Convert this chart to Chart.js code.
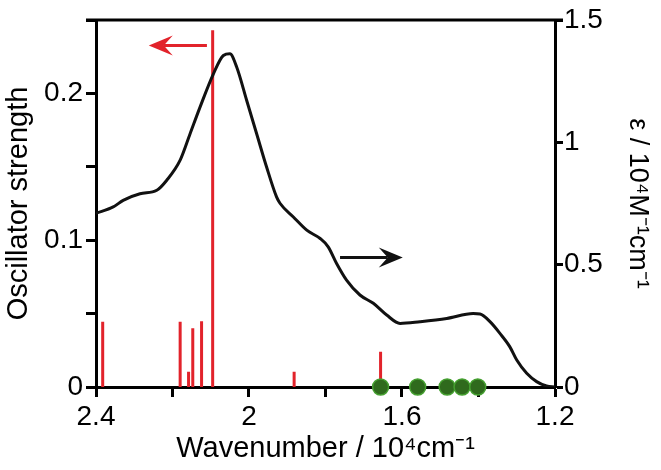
<!DOCTYPE html>
<html>
<head>
<meta charset="utf-8">
<script src="https://cdn.jsdelivr.net/npm/chart.js@4.4.1/dist/chart.umd.min.js"></script>
<style>
  html, body { margin: 0; padding: 0; background: #fff; }
  #wrap { width: 661px; height: 470px; }
</style>
</head>
<body>
<div id="wrap"><canvas id="c" width="661" height="470"></canvas></div>
<script>
// ---- data (wavenumber in 10^4 cm^-1) ----
const wavenumber = [2.400, 2.355, 2.329, 2.285, 2.241, 2.215, 2.180, 2.154, 2.128, 2.093, 2.067, 2.050, 2.032, 2.006, 1.980, 1.954, 1.928, 1.919, 1.884, 1.849, 1.814, 1.793, 1.771, 1.745, 1.710, 1.675, 1.640, 1.605, 1.553, 1.483, 1.414, 1.396, 1.370, 1.344, 1.318, 1.300, 1.274, 1.248, 1.222, 1.200];
const epsilon    = [0.710, 0.736, 0.763, 0.790, 0.804, 0.845, 0.927, 1.035, 1.144, 1.280, 1.355, 1.362, 1.307, 1.171, 1.035, 0.899, 0.777, 0.751, 0.695, 0.641, 0.607, 0.573, 0.505, 0.437, 0.376, 0.342, 0.294, 0.260, 0.267, 0.280, 0.300, 0.298, 0.267, 0.219, 0.164, 0.110, 0.056, 0.022, 0.004, 0.000];

const stickPositions = [2.3825, 2.180, 2.158, 2.147, 2.124, 2.095, 1.882, 1.656];
const oscillatorStrength = [0.0444, 0.0444, 0.0104, 0.0400, 0.0448, 0.2430, 0.0104, 0.0240];

const dotPositions = [1.656, 1.559, 1.482, 1.443, 1.402];

const xTickValues = [2.4, 2.2, 2.0, 1.8, 1.6, 1.4, 1.2];
const xTickLabels = ['2.4', '', '2', '', '1.6', '', '1.2'];
const leftTickValues = [0, 0.05, 0.1, 0.15, 0.2, 0.25];
const leftTickLabels = ['0', '', '0.1', '', '0.2', ''];
const rightTickValues = [0, 0.5, 1, 1.5];
const rightTickLabels = ['0', '0.5', '1', '1.5'];

// arrows in data units: [from, to, y]
const redArrow = [2.110, 2.262, 0.2327];
const blackArrow = [1.762, 1.598, 0.529];

// ---- build datasets ----
const curveData = wavenumber.map((w, i) => ({ x: w, y: epsilon[i] }));
const stickData = [];
stickPositions.forEach((p, i) => {
  stickData.push({ x: p, y: 0 }, { x: p, y: oscillatorStrength[i] }, { x: p, y: null });
});
const dotData = dotPositions.map(p => ({ x: p, y: 0 }));

const FONT = 'Liberation Sans, Arial, Helvetica, sans-serif';
const RED = '#e2232b';

function fixedTicks(values, labels) {
  return {
    afterBuildTicks: (scale) => { scale.ticks = values.map(v => ({ value: v })); },
    cb: (val, idx) => labels[idx]
  };
}
const xT = fixedTicks(xTickValues, xTickLabels);
const lT = fixedTicks(leftTickValues, leftTickLabels);
const rT = fixedTicks(rightTickValues, rightTickLabels);

function drawArrow(ctx, x0, x1, y, color) {
  const dir = Math.sign(x1 - x0);
  const L = 24, H = 10, notch = 9;
  ctx.save();
  ctx.strokeStyle = color;
  ctx.fillStyle = color;
  ctx.lineWidth = 3;
  ctx.beginPath();
  ctx.moveTo(x0, y);
  ctx.lineTo(x1 - dir * (L - notch), y);
  ctx.stroke();
  ctx.beginPath();
  ctx.moveTo(x1, y);
  ctx.lineTo(x1 - dir * L, y - H);
  ctx.lineTo(x1 - dir * (L - notch), y);
  ctx.lineTo(x1 - dir * L, y + H);
  ctx.closePath();
  ctx.fill();
  ctx.restore();
}

const decor = {
  id: 'decor',
  afterDatasetsDraw(chart) {
    const { ctx, chartArea, scales } = chart;
    ctx.save();
    ctx.strokeStyle = '#000';
    ctx.lineWidth = 3;
    ctx.beginPath();
    ctx.moveTo(chartArea.left - 10, chartArea.top);
    ctx.lineTo(chartArea.right + 8, chartArea.top);
    ctx.stroke();
    ctx.restore();
    const x = scales.x;
    drawArrow(ctx, x.getPixelForValue(redArrow[0]), x.getPixelForValue(redArrow[1]),
      scales.yL.getPixelForValue(redArrow[2]), RED);
    drawArrow(ctx, x.getPixelForValue(blackArrow[0]), x.getPixelForValue(blackArrow[1]),
      scales.yR.getPixelForValue(blackArrow[2]), '#111');
  }
};

new Chart(document.getElementById('c'), {
  type: 'line',
  data: {
    datasets: [
      {
        label: 'dots', data: dotData, yAxisID: 'yR', showLine: false,
        pointRadius: 8, pointHoverRadius: 8,
        pointBackgroundColor: '#2f6a1d', pointBorderColor: '#45a030', pointBorderWidth: 1.5,
        clip: false
      },
      {
        label: 'epsilon', data: curveData, yAxisID: 'yR',
        borderColor: '#111', borderWidth: 3, pointRadius: 0,
        cubicInterpolationMode: 'monotone', fill: false
      },
      {
        label: 'f', data: stickData, yAxisID: 'yL', spanGaps: false,
        borderColor: RED, borderWidth: 3, pointRadius: 0, borderCapStyle: 'butt'
      }
    ]
  },
  options: {
    responsive: false,
    animation: false,
    layout: { padding: { top: 20, left: 0, right: 0, bottom: 0 } },
    plugins: { legend: { display: false }, tooltip: { enabled: false } },
    events: [],
    scales: {
      x: {
        type: 'linear', reverse: true, min: 1.2, max: 2.4,
        afterBuildTicks: xT.afterBuildTicks,
        afterFit: (s) => { s.height = 83; },
        ticks: { callback: xT.cb, color: '#000', padding: 3, maxRotation: 0, autoSkip: false,
                 font: { family: FONT, size: 28 } },
        grid: { drawOnChartArea: false, drawTicks: true, tickLength: 10, tickWidth: 3, tickColor: '#000' },
        border: { display: true, color: '#000', width: 3 },
        title: { display: true, text: 'Wavenumber / 10⁴cm⁻¹', color: '#000',
                 font: { family: FONT, size: 29 }, padding: { top: 0, bottom: 4 } }
      },
      yL: {
        type: 'linear', position: 'left', min: 0, max: 0.25,
        afterBuildTicks: lT.afterBuildTicks,
        afterFit: (s) => { s.width = 96; },
        ticks: { callback: lT.cb, color: '#000', padding: 3, autoSkip: false,
                 font: { family: FONT, size: 28 } },
        grid: { drawOnChartArea: false, drawTicks: true, tickLength: 10, tickWidth: 3, tickColor: '#000' },
        border: { display: true, color: '#000', width: 3 },
        title: { display: true, text: 'Oscillator strength', color: '#000',
                 font: { family: FONT, size: 29 }, padding: { top: 2, bottom: 0 } }
      },
      yR: {
        type: 'linear', position: 'right', min: 0, max: 1.5,
        afterBuildTicks: rT.afterBuildTicks,
        afterFit: (s) => { s.width = 106; },
        ticks: { callback: rT.cb, color: '#000', padding: 1, autoSkip: false,
                 font: { family: FONT, size: 28 } },
        grid: { drawOnChartArea: false, drawTicks: true, tickLength: 8, tickWidth: 3, tickColor: '#000' },
        border: { display: true, color: '#000', width: 3 },
        title: { display: true, text: 'ε / 10⁴M⁻¹cm⁻¹', color: '#000',
                 font: { family: FONT, size: 27 }, padding: { top: 7, bottom: 0 } }
      }
    }
  },
  plugins: [decor]
});
</script>
</body>
</html>
